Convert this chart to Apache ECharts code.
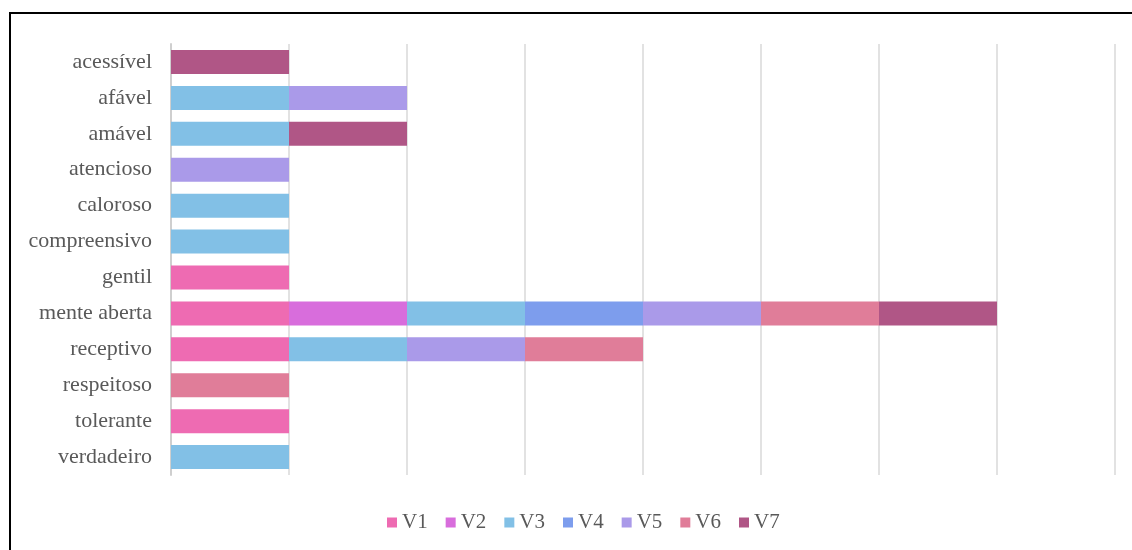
<!DOCTYPE html>
<html>
<head>
<meta charset="utf-8">
<script src="https://cdn.jsdelivr.net/npm/echarts@6/dist/echarts.min.js"></script>
<style>
  html, body { margin: 0; padding: 0; background: #fff; overflow: hidden; }
  #frame { position: absolute; left: 9px; top: 12px; width: 1140px; height: 560px; border: 2px solid #000; box-sizing: border-box; }
  #chart { position: absolute; left: 0; top: 0; width: 1132px; height: 550px; }
</style>
</head>
<body>
<div id="frame"></div>
<div id="chart"></div>
<script>
const categories = ['acessível', 'afável', 'amável', 'atencioso', 'caloroso', 'compreensivo',
  'gentil', 'mente aberta', 'receptivo', 'respeitoso', 'tolerante', 'verdadeiro']
const seriesNames = ['V1', 'V2', 'V3', 'V4', 'V5', 'V6', 'V7']
const colors = ['#ee6bb2', '#d86ddc', '#82c0e6', '#7d9ded', '#aa9ae9', '#e07d99', '#b05686']
// one value per category, in the order above
const v1 = [null, null, null, null, null, null, 1, 1, 1, null, 1, null]
const v2 = [null, null, null, null, null, null, null, 1, null, null, null, null]
const v3 = [null, 1, 1, null, 1, 1, null, 1, 1, null, null, 1]
const v4 = [null, null, null, null, null, null, null, 1, null, null, null, null]
const v5 = [null, 1, null, 1, null, null, null, 1, 1, null, null, null]
const v6 = [null, null, null, null, null, null, null, 1, 1, 1, null, null]
const v7 = [1, null, 1, null, null, null, null, 1, null, null, null, null]
const values = [v1, v2, v3, v4, v5, v6, v7]

const chart = echarts.init(document.getElementById('chart'))
const font = 'Liberation Serif, Times New Roman, serif'
chart.setOption({
  animation: false,
  color: colors,
  grid: { left: 171, right: 17, top: 44, bottom: 75 },
  legend: {
    top: 507,
    left: 382,
    icon: 'rect',
    itemWidth: 10,
    itemHeight: 10,
    itemGap: 18,
    textStyle: { fontFamily: font, fontSize: 21, color: '#595959' },
    data: seriesNames
  },
  xAxis: {
    type: 'value',
    min: 0,
    max: 8,
    interval: 1,
    axisLabel: { show: false },
    axisLine: { show: false },
    axisTick: { show: false },
    splitLine: { lineStyle: { color: '#d9d9d9', width: 1.5 } }
  },
  yAxis: {
    type: 'category',
    inverse: true,
    data: categories,
    axisLine: { lineStyle: { color: '#cfcfcf', width: 2 } },
    axisTick: { show: false },
    axisLabel: { fontFamily: font, fontSize: 22, color: '#595959', margin: 19 }
  },
  series: seriesNames.map((name, i) => ({
    name: name,
    type: 'bar',
    stack: 'total',
    barWidth: 24,
    data: values[i]
  }))
})
</script>
</body>
</html>
